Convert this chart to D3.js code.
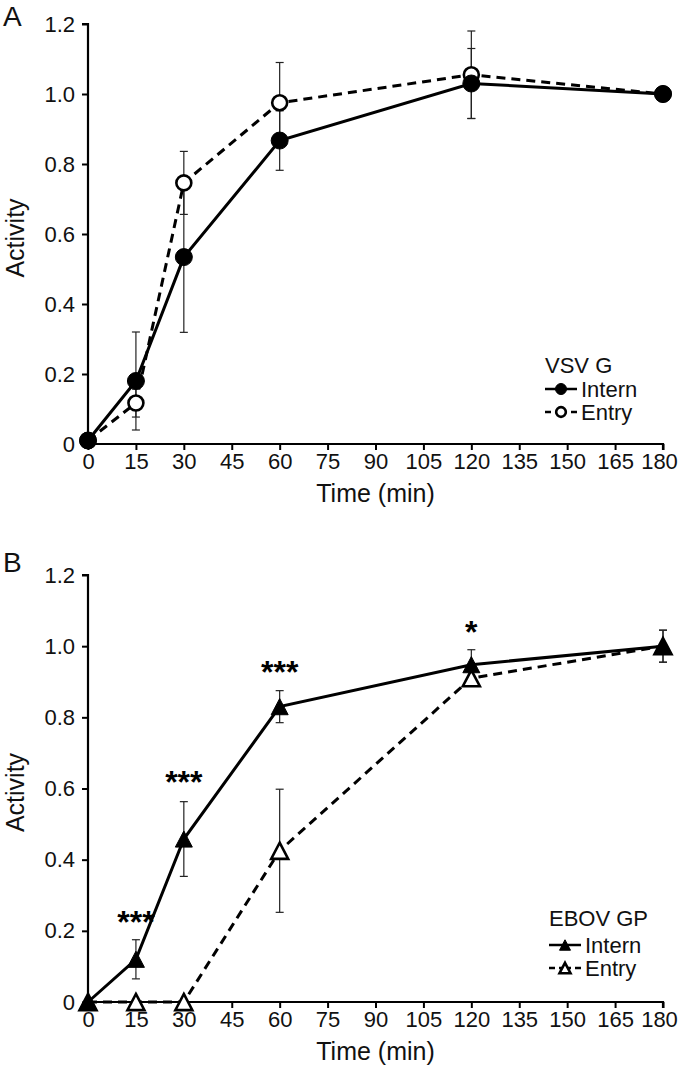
<!DOCTYPE html>
<html>
<head>
<meta charset="utf-8">
<script src="https://cdn.jsdelivr.net/npm/d3@7"></script>
<style>
  html, body { margin: 0; padding: 0; background: #fff; }
  svg { display: block; font-family: "Liberation Sans", Arial, sans-serif; }
</style>
</head>
<body>
<svg id="chart" width="680" height="1073"></svg>
<script>
// ---------- data ----------
const times = [0, 15, 30, 60, 120, 180];
const xTicks = [0, 15, 30, 45, 60, 75, 90, 105, 120, 135, 150, 165, 180];
const yTicks = [0, 0.2, 0.4, 0.6, 0.8, 1.0, 1.2];

const vsvIntern    = [0.01, 0.18, 0.534, 0.867, 1.03, 1.0];
const vsvInternErr = [0.01, 0.14, 0.215, 0.085, 0.10, 0.01];
const vsvEntry     = [0.01, 0.117, 0.746, 0.975, 1.055, 1.0];
const vsvEntryErr  = [0.01, 0.04, 0.09, 0.115, 0.125, 0.01];

const ebovIntern    = [0, 0.12, 0.458, 0.83, 0.948, 1.0];
const ebovInternErr = [0, 0.055, 0.105, 0.045, 0.042, 0.045];
const ebovEntry     = [0, 0, 0, 0.425, 0.91, 1.0];
const ebovEntryErr  = [0, 0, 0, 0.173, 0.02, 0.045];

const ebovStars = [
  { t: 15, y: 0.244, label: "***" },
  { t: 30, y: 0.638, label: "***" },
  { t: 60, y: 0.947, label: "***" },
  { t: 120, y: 1.06, label: "*" }
];

const seriesNames = ["Intern", "Entry"];

// ---------- drawing ----------
const svg = d3.select("#chart");
const FONT = "'Liberation Sans', Arial, sans-serif";

function drawPanel(cfg) {
  const x = d3.scaleLinear().domain([0, 180]).range([88, 663]);
  const y = d3.scaleLinear().domain([0, 1.2]).range([cfg.y0, cfg.y1]);
  const g = svg.append("g");

  // axes
  const yAxis = d3.axisLeft(y).tickValues(yTicks).tickSize(6).tickPadding(7)
    .tickFormat(d => d === 0 ? "0" : d3.format(".1f")(d));
  const gy = g.append("g").attr("transform", "translate(88,0)").call(yAxis);
  const xAxis = d3.axisBottom(x).tickValues(xTicks).tickSize(6).tickPadding(3);
  const gx = g.append("g").attr("transform", `translate(0,${cfg.y0})`).call(xAxis);
  [gx, gy].forEach(a => {
    a.select(".domain").attr("stroke", "#000").attr("stroke-width", 2.2);
    a.selectAll(".tick line").attr("stroke", "#000").attr("stroke-width", 2);
    a.selectAll(".tick text").attr("fill", "#111").style("font-size", "22px")
      .style("font-family", FONT);
  });
  // keep the last x label inside the frame
  gx.selectAll(".tick text").filter(d => d === 180).attr("dx", -4);
  gy.select(".domain").attr("d", `M-6,${y(1.2)}H0V${y(0)}`);
  gx.select(".domain").attr("d", `M${x(0)},0H${x(180)}V6`);

  // axis titles
  g.append("text").attr("x", x(90)).attr("y", cfg.y0 + 58)
    .attr("text-anchor", "middle").style("font-size", "25px").attr("fill", "#111")
    .text("Time (min)");
  g.append("text").attr("transform", `translate(24,${(cfg.y0 + cfg.y1) / 2 + 4}) rotate(-90)`)
    .attr("text-anchor", "middle").style("font-size", "25px").attr("fill", "#111")
    .text("Activity");
  g.append("text").attr("x", 3).attr("y", cfg.letterY)
    .style("font-size", "28px").attr("fill", "#111").text(cfg.letter);

  const series = [
    { vals: cfg.intern, err: cfg.internErr, dash: null, filled: true },
    { vals: cfg.entry, err: cfg.entryErr, dash: "9,6", filled: false }
  ];

  // error bars
  series.forEach(s => {
    const eg = g.append("g").attr("stroke", "#222").attr("stroke-width", 1.2).attr("fill", "none");
    times.forEach((t, i) => {
      const e = s.err[i];
      if (e <= 0) return;
      const cx = x(t), top = y(s.vals[i] + e), bot = y(s.vals[i] - e);
      eg.append("line").attr("x1", cx).attr("x2", cx).attr("y1", top).attr("y2", bot);
      eg.append("line").attr("x1", cx - 4).attr("x2", cx + 4).attr("y1", top).attr("y2", top);
      eg.append("line").attr("x1", cx - 4).attr("x2", cx + 4).attr("y1", bot).attr("y2", bot);
    });
  });

  const line = d3.line().x((d, i) => x(times[i])).y(d => y(d));

  function marker(sel, filled, size) {
    if (cfg.shape === "circle") {
      sel.append("circle").attr("r", filled ? size * 0.5 : size * 0.44)
        .attr("fill", filled ? "#000" : "#fff").attr("stroke", "#000")
        .attr("stroke-width", filled ? 1 : 2.6);
    } else {
      const w = size, h = size * 0.95;
      sel.append("path")
        .attr("d", `M0,${-h / 2}L${w / 2},${h / 2}L${-w / 2},${h / 2}Z`)
        .attr("fill", filled ? "#000" : "#fff").attr("stroke", "#000")
        .attr("stroke-width", filled ? 1 : 2.6).attr("stroke-linejoin", "miter");
    }
  }

  [series[1], series[0]].forEach(s => {
    g.append("path").datum(s.vals).attr("d", line).attr("fill", "none")
      .attr("stroke", "#000").attr("stroke-width", 3)
      .attr("stroke-dasharray", s.dash);
  });
  [series[1], series[0]].forEach(s => {
    s.vals.forEach((v, i) => {
      const m = g.append("g").attr("transform", `translate(${x(times[i])},${y(v)})`);
      marker(m, s.filled, 17);
    });
  });

  // significance stars
  (cfg.stars || []).forEach(st => {
    g.append("text").attr("x", x(st.t)).attr("y", y(st.y) + 18)
      .attr("text-anchor", "middle").style("font-size", "32px").style("font-weight", "bold")
      .attr("fill", "#000").text(st.label);
  });

  // legend
  const L = cfg.legend;
  g.append("text").attr("x", L.x).attr("y", L.y).attr("dy", "0.35em")
    .style("font-size", "22px").attr("fill", "#111").text(cfg.title);
  seriesNames.forEach((name, i) => {
    const ly = L.y + L.gap1 + i * L.gap2;
    const lg = g.append("g");
    lg.append("line").attr("x1", L.x).attr("x2", L.x + 32).attr("y1", ly).attr("y2", ly)
      .attr("stroke", "#000").attr("stroke-width", 2.5)
      .attr("stroke-dasharray", i === 1 ? "6,4,12,4,6" : null);
    const m = lg.append("g").attr("transform", `translate(${L.x + 16},${ly})`);
    marker(m, i === 0, 11);
    lg.append("text").attr("x", L.x + 36).attr("y", ly).attr("dy", "0.35em")
      .style("font-size", "22px").attr("fill", "#111").text(name);
  });
}

drawPanel({
  y0: 444, y1: 24, letter: "A", letterY: 26, shape: "circle",
  intern: vsvIntern, internErr: vsvInternErr, entry: vsvEntry, entryErr: vsvEntryErr,
  title: "VSV G", legend: { x: 545, y: 365, gap1: 24, gap2: 23 }
});
drawPanel({
  y0: 1002, y1: 575, letter: "B", letterY: 572, shape: "triangle",
  intern: ebovIntern, internErr: ebovInternErr, entry: ebovEntry, entryErr: ebovEntryErr,
  stars: ebovStars,
  title: "EBOV GP", legend: { x: 549, y: 918, gap1: 27, gap2: 23 }
});
</script>
</body>
</html>
